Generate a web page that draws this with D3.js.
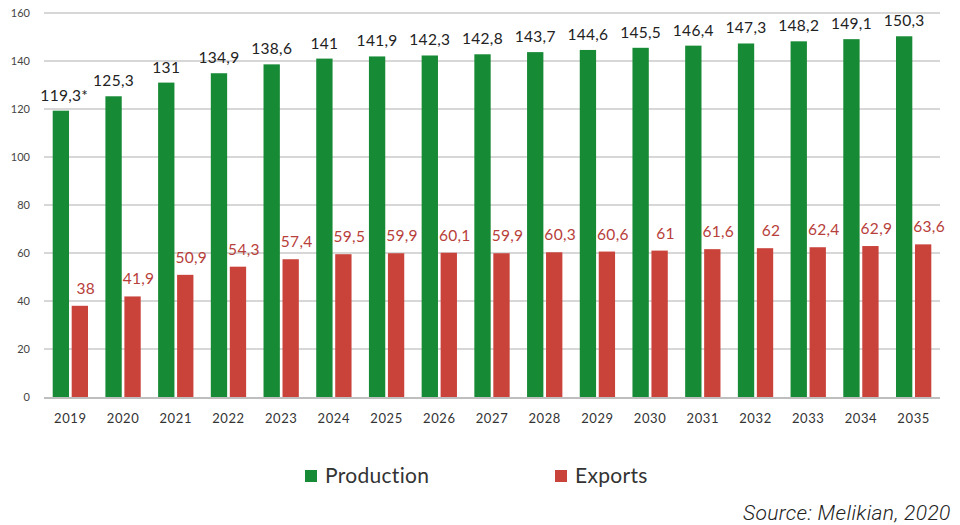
<!DOCTYPE html>
<html><head><meta charset="utf-8">
<script src="https://cdn.jsdelivr.net/npm/d3@7"></script>
<style>
body{margin:0;background:#fff;}
svg{display:block;}
</style></head>
<body>
<svg id="c" width="960" height="525"></svg>
<script>
const years = ["2019","2020","2021","2022","2023","2024","2025","2026","2027","2028","2029","2030","2031","2032","2033","2034","2035"];
const production = [119.3,125.3,131,134.9,138.6,141,141.9,142.3,142.8,143.7,144.6,145.5,146.4,147.3,148.2,149.1,150.3];
const exportsV = [38,41.9,50.9,54.3,57.4,59.5,59.9,60.1,59.9,60.3,60.6,61,61.6,62,62.4,62.9,63.6];
const prodLabels = ["119,3*","125,3","131","134,9","138,6","141","141,9","142,3","142,8","143,7","144,6","145,5","146,4","147,3","148,2","149,1","150,3"];
const expLabels = ["38","41,9","50,9","54,3","57,4","59,5","59,9","60,1","59,9","60,3","60,6","61","61,6","62","62,4","62,9","63,6"];
const yTicks = [0,20,40,60,80,100,120,140,160];
const seriesNames = ["Production","Exports"];
const colors = ["#178a35","#c9433b"];

const svg = d3.select("#c");
const pLeft = 44, pRight = 940, pTop = 13, pBottom = 397;
const x = d3.scaleBand().domain(years).range([pLeft, pRight]).paddingInner(0.33).paddingOuter(0.165);
const y = d3.scaleLinear().domain([0,160]).range([pBottom, pTop]);
const sub = d3.scaleBand().domain(seriesNames).range([0, x.bandwidth()]).paddingInner(0.14);
const FONT = "Lato, 'Open Sans', sans-serif";

// gridlines
svg.append("g").selectAll("line").data(yTicks.filter(d=>d>0)).join("line")
  .attr("x1", pLeft).attr("x2", pRight)
  .attr("y1", d=>y(d)).attr("y2", d=>y(d))
  .attr("stroke", "#b0b0b0").attr("stroke-width", 1.2);

// y labels
svg.append("g").selectAll("text").data(yTicks).join("text")
  .attr("x", 30).attr("y", d=>y(d)+4)
  .attr("text-anchor","end")
  .attr("font-family",FONT).attr("font-size",11)
  .attr("fill","#444").text(d=>d);

// bars
const g = svg.append("g");
g.selectAll("rect.p").data(years).join("rect").attr("class","p")
  .attr("x", (d)=>x(d)+sub("Production"))
  .attr("width", sub.bandwidth())
  .attr("y", (d,i)=>y(production[i]))
  .attr("height", (d,i)=>y(0)-y(production[i]))
  .attr("fill", colors[0]);
g.selectAll("rect.e").data(years).join("rect").attr("class","e")
  .attr("x", (d)=>x(d)+sub("Exports"))
  .attr("width", sub.bandwidth())
  .attr("y", (d,i)=>y(exportsV[i]))
  .attr("height", (d,i)=>y(0)-y(exportsV[i]))
  .attr("fill", colors[1]);

// axis line
svg.append("line").attr("x1", pLeft).attr("x2", pRight).attr("y1", y(0)+1).attr("y2", y(0)+1)
  .attr("stroke","#a8a8a8").attr("stroke-width",1.5);

// x labels
svg.append("g").selectAll("text").data(years).join("text")
  .attr("x", d=>x(d)+x.bandwidth()/2).attr("y", 423)
  .attr("text-anchor","middle")
  .attr("font-family",FONT).attr("font-size",13).attr("letter-spacing",0.6)
  .attr("fill","#333").text(d=>d);

// production value labels (centred on the number, footnote mark trailing)
const pl = svg.append("g").selectAll("text").data(years).join("text")
  .attr("y", (d,i)=>y(production[i])-10)
  .attr("font-family",FONT).attr("font-size",15.5).attr("letter-spacing",0.3)
  .attr("fill","#222");
pl.each(function(d,i){
  const t = d3.select(this);
  const lab = prodLabels[i];
  const main = lab.replace(/\*$/,"");
  const star = lab.endsWith("*") ? "*" : "";
  const m = t.append("tspan").text(main);
  if (star) t.append("tspan").text(star);
  const w = m.node().getComputedTextLength();
  const cx = x(d)+sub("Production")+sub.bandwidth()/2;
  t.attr("x", cx - w/2);
});

// export value labels
svg.append("g").selectAll("text").data(years).join("text")
  .attr("x", (d)=>x(d)+sub("Exports")+sub.bandwidth()/2 + 6)
  .attr("y", (d,i)=>y(exportsV[i])-12)
  .attr("text-anchor","middle")
  .attr("font-family",FONT).attr("font-size",15.5).attr("letter-spacing",0.3)
  .attr("fill","#b7403b").text((d,i)=>expLabels[i]);

// legend
const legX = [305, 555];
const leg = svg.append("g").selectAll("g").data(seriesNames).join("g")
  .attr("transform",(d,i)=>`translate(${legX[i]},470)`);
leg.append("rect").attr("width",12).attr("height",12).attr("y",0)
  .attr("fill",(d,i)=>colors[i]);
leg.append("text").attr("x",20).attr("y",13)
  .attr("font-family",FONT).attr("font-size",21).attr("letter-spacing",0.3)
  .attr("fill","#333").text(d=>d);

// source
svg.append("text").attr("x",743).attr("y",520)
  .attr("font-family","Roboto, 'Liberation Sans', sans-serif").attr("font-style","italic")
  .attr("font-weight",300).attr("font-size",21).attr("letter-spacing",0.35)
  .attr("fill","#222").text("Source: Melikian, 2020");
</script>
</body></html>
